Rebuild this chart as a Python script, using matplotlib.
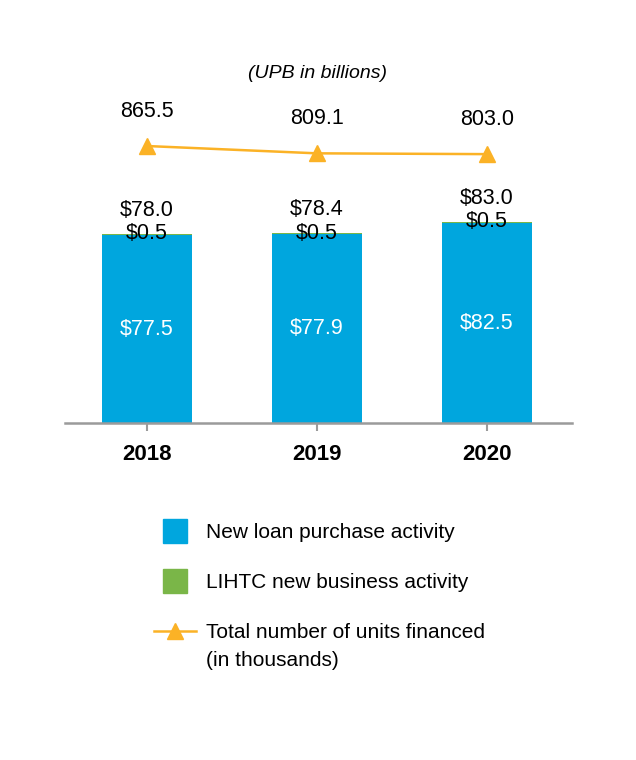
import numpy as np
import matplotlib
matplotlib.use("Agg")
from matplotlib import pyplot as plt
from matplotlib.lines import Line2D

plt.rcParams['font.family'] = ['Liberation Sans', 'DejaVu Sans']

years = ['2018', '2019', '2020']
new_loan = [77.5, 77.9, 82.5]
lihtc = [0.5, 0.5, 0.5]
totals = [78.0, 78.4, 83.0]
units = [865.5, 809.1, 803.0]

blue = '#00A6DE'
green = '#7AB648'
orange = '#FBB226'
grey = '#9B9B9B'

fig = plt.figure(figsize=(6.36, 7.6), dpi=100)
ax = fig.add_axes([65/636, 337/760, 507/636, 363/760])
x = np.arange(len(years))

ax.bar(x, new_loan, width=0.53, color=blue, zorder=2)
ax.bar(x, lihtc, bottom=new_loan, width=0.53, color=green, zorder=2)
ax.set_xlim(-0.48, 2.5)
ax.set_ylim(0, 149.8)

for i in range(len(years)):
    ax.text(x[i], new_loan[i] / 2, f'${new_loan[i]:.1f}', color='white',
            ha='center', va='center', fontsize=15.5)
    ax.text(x[i], new_loan[i] + lihtc[i], f'${lihtc[i]:.1f}', color='black',
            ha='center', va='center', fontsize=15.5)
    ax.annotate(f'${totals[i]:.1f}', (x[i], new_loan[i] + lihtc[i]),
                xytext=(0, 17), textcoords='offset points',
                ha='center', va='center', fontsize=15.5)

for s in ['top', 'right', 'left']:
    ax.spines[s].set_visible(False)
ax.spines['bottom'].set_color(grey)
ax.spines['bottom'].set_linewidth(1.8)
ax.set_yticks([])
ax.set_xticks(x)
ax.set_xticklabels(years, fontsize=16, fontweight='bold')
ax.tick_params(axis='x', length=6, width=1.5, color=grey, pad=9)

ax2 = ax.twinx()
ax2.set_ylim(-1265, 1527)
ax2.plot(x, units, color=orange, lw=1.8, marker='^', markersize=11, zorder=3)
for i in range(len(years)):
    ax2.annotate(f'{units[i]:.1f}', (x[i], units[i]), xytext=(0, 25),
                 textcoords='offset points', ha='center', va='center', fontsize=15.5)
ax2.axis('off')

fig.text(318/636, 1 - 74/760, '(UPB in billions)', ha='center', va='center',
         fontsize=14, style='italic')

handles = [Line2D([], [], color=blue, marker='s', ls='none', markersize=17),
           Line2D([], [], color=green, marker='s', ls='none', markersize=17),
           Line2D([], [], color=orange, lw=1.8, marker='^', markersize=11)]
labels = ['New loan purchase activity', 'LIHTC new business activity',
          'Total number of units financed']
fig.legend(handles, labels, loc='upper left',
           bbox_to_anchor=(154/636, 1 - 523/760),
           frameon=False, fontsize=15, handlelength=2.0, handletextpad=0.5,
           labelspacing=1.5, borderpad=0, borderaxespad=0)
fig.text(206/636, 1 - 661/760, '(in thousands)', fontsize=15,
         ha='left', va='center')

fig.savefig('out.png', dpi=100)
